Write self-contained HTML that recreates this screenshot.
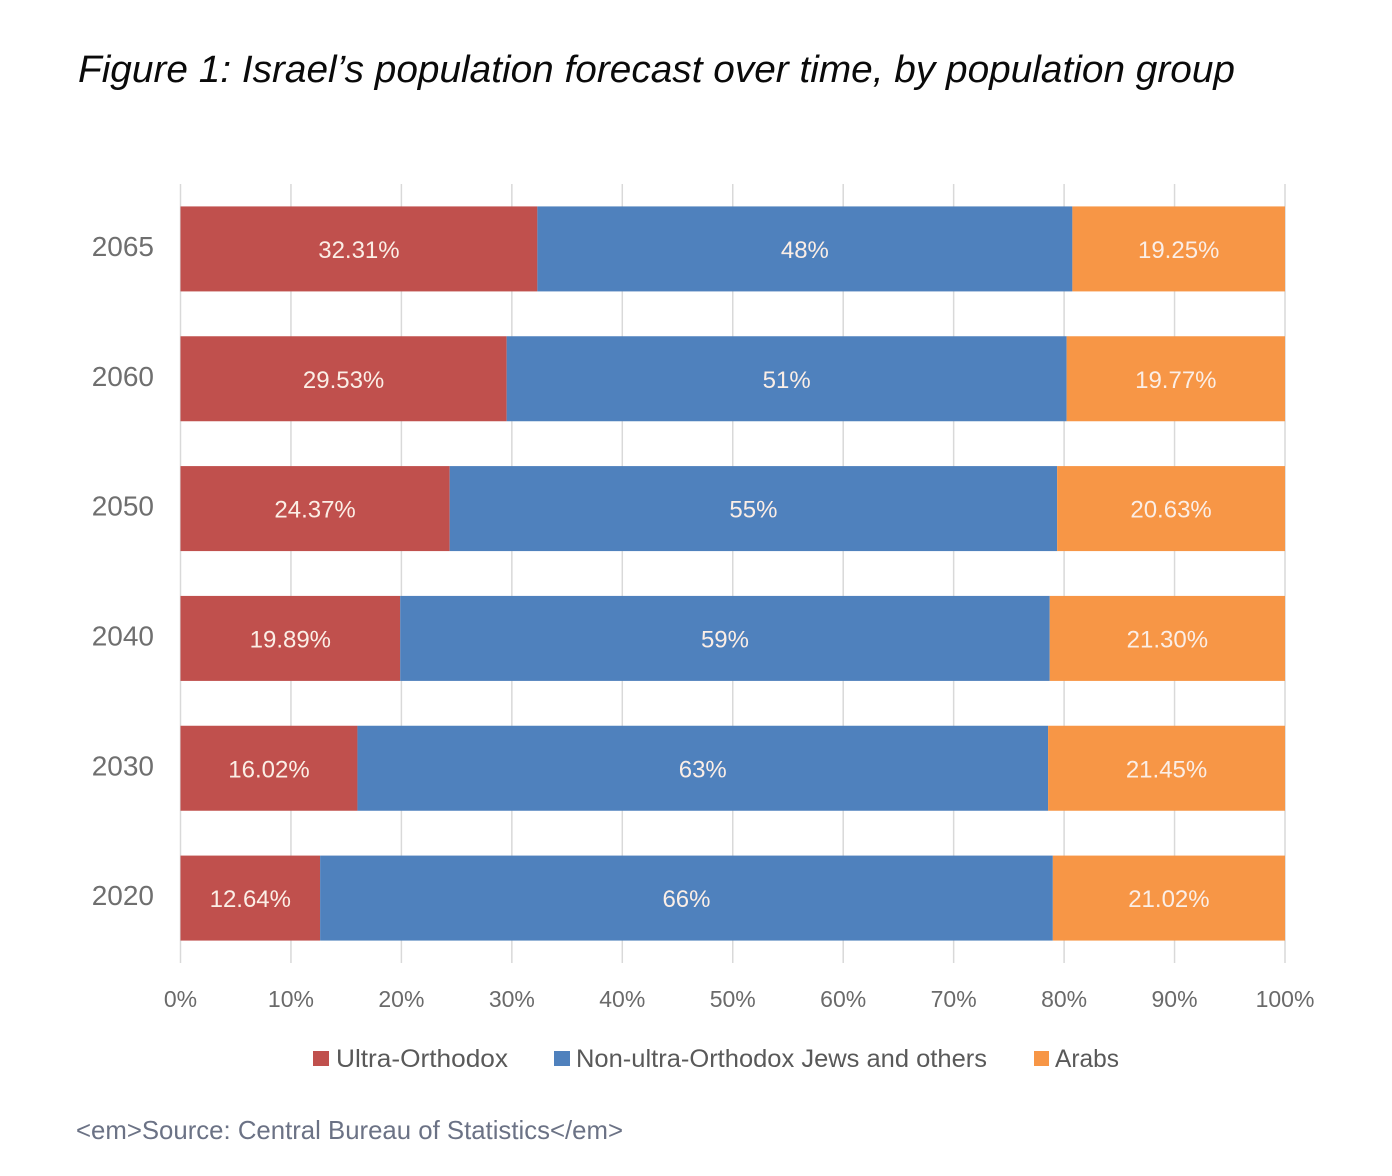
<!DOCTYPE html>
<html lang="en">
<head>
<meta charset="utf-8">
<title>Israel's population forecast</title>
<style>
html,body{margin:0;padding:0;background:#fff;}
svg{display:block;font-family:"Liberation Sans",sans-serif;}
</style>
</head>
<body>
<svg id="chart" width="1392" height="1176" viewBox="0 0 1392 1176" xmlns="http://www.w3.org/2000/svg">
  <text x="78" y="82" font-size="38" font-style="italic" fill="#0a0a0a" textLength="1157" lengthAdjust="spacingAndGlyphs">Figure 1: Israel’s population forecast over time, by population group</text>
  <g id="grid"></g>
  <g id="bars"></g>
  <g id="y-axis"></g>
  <g id="x-axis"></g>
  <g>
    <g>
      <rect x="313" y="1051" width="16" height="15" fill="#c0504d"/>
      <text x="336" y="1067" font-size="25" fill="#595959" textLength="172" lengthAdjust="spacingAndGlyphs">Ultra-Orthodox</text>
    </g>
    <g>
      <rect x="554" y="1051" width="16" height="15" fill="#4f81bd"/>
      <text x="576" y="1067" font-size="25" fill="#595959" textLength="411" lengthAdjust="spacingAndGlyphs">Non-ultra-Orthodox Jews and others</text>
    </g>
    <g>
      <rect x="1034" y="1051" width="15" height="15" fill="#f79646"/>
      <text x="1055" y="1067" font-size="25" fill="#595959" textLength="64" lengthAdjust="spacingAndGlyphs">Arabs</text>
    </g>
  </g>
  <text x="76" y="1139" font-size="26" fill="#6b7285" textLength="547" lengthAdjust="spacingAndGlyphs">&lt;em&gt;Source: Central Bureau of Statistics&lt;/em&gt;</text>
</svg>
<script>
const categories = ["2065", "2060", "2050", "2040", "2030", "2020"];
const ultraOrthodox = [32.31, 29.53, 24.37, 19.89, 16.02, 12.64];
const nonUltraOrthodox = [48.44, 50.7, 55, 58.81, 62.53, 66.34];
const arabs = [19.25, 19.77, 20.63, 21.3, 21.45, 21.02];
const xTicks = [0, 10, 20, 30, 40, 50, 60, 70, 80, 90, 100];
const seriesNames = ["ultra-orthodox", "non-ultra-orthodox", "arabs"];
const seriesValues = [ultraOrthodox, nonUltraOrthodox, arabs];
const seriesDigits = [2, 0, 2];
const seriesColors = ["#c0504d", "#4f81bd", "#f79646"];

const NS = "http://www.w3.org/2000/svg";
const plotLeft = 180.5, plotRight = 1285, plotTop = 184, plotBottom = 963;
const barHeight = 85;
const xScale = v => plotLeft + (v / 100) * (plotRight - plotLeft);
const bandCenter = i => plotTop + (i + 0.5) * (plotBottom - plotTop) / categories.length;

const gridLayer = document.getElementById("grid");
const barLayer = document.getElementById("bars");
const yLayer = document.getElementById("y-axis");
const xLayer = document.getElementById("x-axis");

xTicks.forEach(t => {
  const line = document.createElementNS(NS, "line");
  
  
  line.setAttribute("x1", xScale(t));
  line.setAttribute("x2", xScale(t));
  line.setAttribute("y1", plotTop);
  line.setAttribute("y2", plotBottom);
  line.setAttribute("stroke", "#d9d9d9");
  line.setAttribute("stroke-width", "1.5");
  gridLayer.appendChild(line);

  const label = document.createElementNS(NS, "text");
  
  
  label.setAttribute("x", xScale(t));
  label.setAttribute("y", 1007);
  label.setAttribute("text-anchor", "middle");
  label.setAttribute("font-size", "23");
  label.setAttribute("fill", "#6a6a6a");
  label.textContent = t + "%";
  xLayer.appendChild(label);
});

categories.forEach((cat, i) => {
  const cy = bandCenter(i);

  const catLabel = document.createElementNS(NS, "text");
  
  
  catLabel.setAttribute("x", 154);
  catLabel.setAttribute("y", cy + 7);
  catLabel.setAttribute("text-anchor", "end");
  catLabel.setAttribute("font-size", "28");
  catLabel.setAttribute("fill", "#6f6f6f");
  catLabel.textContent = cat;
  yLayer.appendChild(catLabel);

  let start = 0;
  seriesValues.forEach((values, s) => {
    const v = values[i];
    const x0 = xScale(start);
    const x1 = xScale(start + v);

    const rect = document.createElementNS(NS, "rect");
    
    
    rect.setAttribute("x", x0);
    rect.setAttribute("y", cy - barHeight / 2);
    rect.setAttribute("width", x1 - x0);
    rect.setAttribute("height", barHeight);
    rect.setAttribute("fill", seriesColors[s]);
    barLayer.appendChild(rect);

    const text = document.createElementNS(NS, "text");
    
    
    text.setAttribute("x", (x0 + x1) / 2);
    text.setAttribute("y", cy + 9);
    text.setAttribute("text-anchor", "middle");
    text.setAttribute("font-size", "24");
    text.setAttribute("fill", "#fbeee6");
    text.textContent = v.toFixed(seriesDigits[s]) + "%";
    barLayer.appendChild(text);

    start += v;
  });
});
</script>
</body>
</html>
